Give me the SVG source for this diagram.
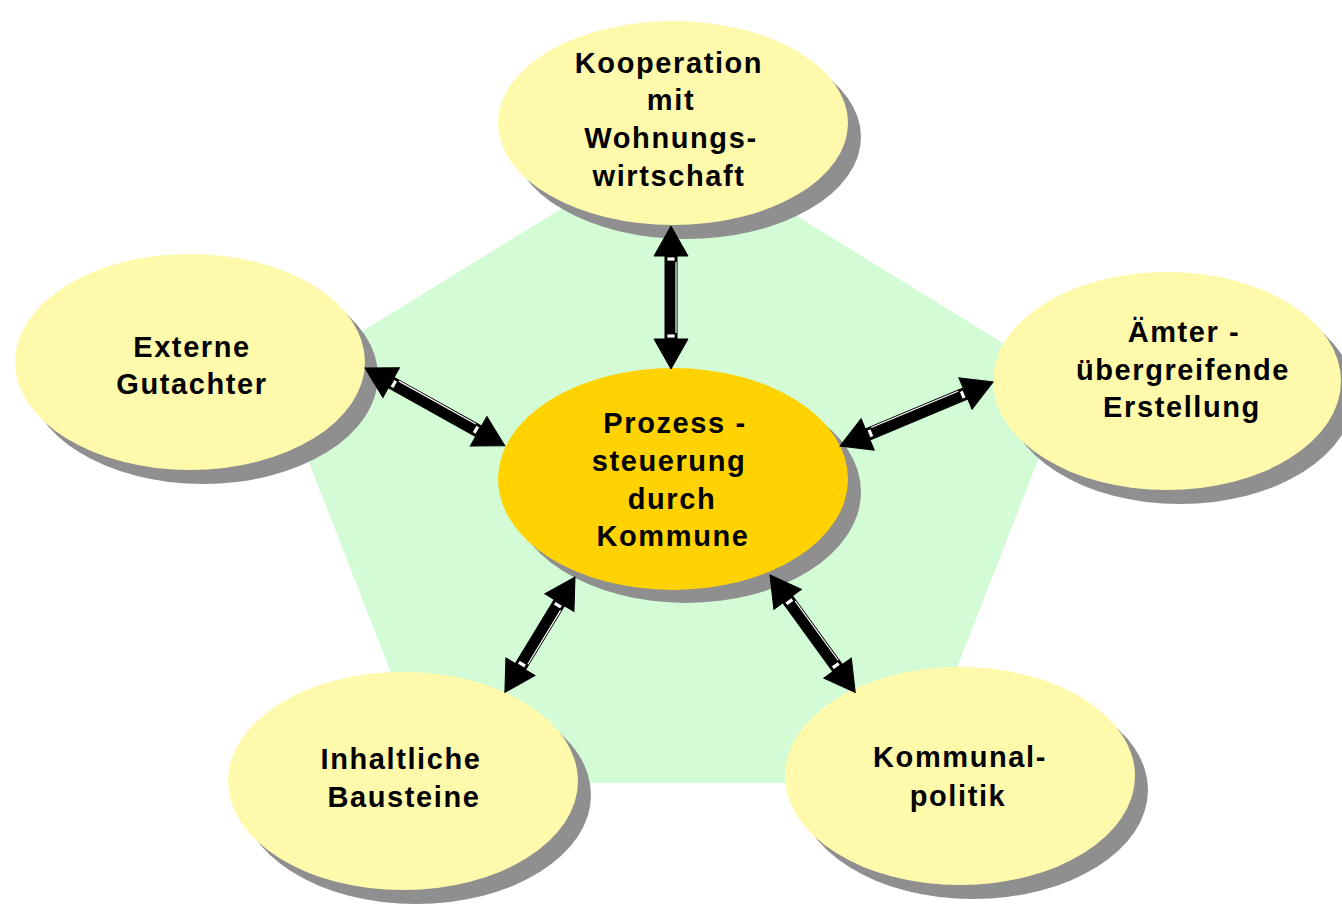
<svg xmlns="http://www.w3.org/2000/svg" width="1342" height="904" viewBox="0 0 1342 904">
<style>
.shadow{fill:#8f8f8f}
.node{fill:#FFFAAB}
.center{fill:#FFD200}
.lbl{font-family:"Liberation Sans",Arial,sans-serif;font-weight:bold;font-size:29px;letter-spacing:1.6px;fill:#000;text-anchor:middle}
.arr{fill:#000;stroke:#000;stroke-width:1}
.mark{fill:#fff;stroke:#000;stroke-width:0.8}
.hl{stroke:#fff;stroke-width:1.2}
</style>
<rect width="1342" height="904" fill="#fff"/>
<polygon points="673,140 1068,383 912,783 434,783 278,383" fill="#D3FBD5"/>

<g id="node-top">
<ellipse class="shadow" cx="686" cy="137" rx="175" ry="102"/>
<ellipse class="node" cx="673" cy="123" rx="175" ry="102"/>
<text class="lbl"><tspan x="669" y="73">Kooperation</tspan><tspan x="671" y="110">mit</tspan><tspan x="671" y="148">Wohnungs-</tspan><tspan x="669" y="186">wirtschaft</tspan></text>
</g>
<g id="node-left">
<ellipse class="shadow" cx="203" cy="376" rx="175" ry="108"/>
<ellipse class="node" cx="190" cy="362" rx="175" ry="108"/>
<text class="lbl"><tspan x="192" y="357">Externe</tspan><tspan x="192" y="394">Gutachter</tspan></text>
</g>
<g id="node-right">
<ellipse class="shadow" cx="1180" cy="395" rx="174" ry="109"/>
<ellipse class="node" cx="1167" cy="381" rx="174" ry="109"/>
<text class="lbl"><tspan x="1184" y="342">Ämter -</tspan><tspan x="1183" y="380">übergreifende</tspan><tspan x="1182" y="417">Erstellung</tspan></text>
</g>
<g id="node-bottom-left">
<ellipse class="shadow" cx="416" cy="795" rx="175" ry="109"/>
<ellipse class="node" cx="403" cy="781" rx="175" ry="109"/>
<text class="lbl"><tspan x="401" y="769">Inhaltliche</tspan><tspan x="404" y="807">Bausteine</tspan></text>
</g>
<g id="node-bottom-right">
<ellipse class="shadow" cx="973" cy="790" rx="175" ry="109"/>
<ellipse class="node" cx="960" cy="776" rx="175" ry="109"/>
<text class="lbl"><tspan x="960" y="767">Kommunal-</tspan><tspan x="958" y="806">politik</tspan></text>
</g>
<g id="node-center">
<ellipse class="shadow" cx="686" cy="492" rx="175" ry="111"/>
<ellipse class="center" cx="673" cy="479" rx="175" ry="111"/>
<text class="lbl"><tspan x="675" y="433">Prozess -</tspan><tspan x="669" y="471">steuerung</tspan><tspan x="672" y="509">durch</tspan><tspan x="673" y="546">Kommune</tspan></text>
</g>

<g id="connectors">
<g transform="translate(671,226) rotate(90)">
<polygon class="arr" points="0,0 30,-17 30,-6 113,-6 113,-17 143,0 113,17 113,6 30,6 30,17"/>
<line class="hl" x1="36" y1="-5" x2="107" y2="-5"/>
<rect class="mark" x="31" y="-4" width="4" height="8"/><rect class="mark" x="108" y="-4" width="4" height="8"/>
</g>
<g transform="translate(365,368) rotate(29.1)">
<polygon class="arr" points="0,0 30,-17 30,-6 130,-6 130,-17 160,0 130,17 130,6 30,6 30,17"/>
<line class="hl" x1="36" y1="-5" x2="124" y2="-5"/>
<rect class="mark" x="31" y="-4" width="4" height="8"/><rect class="mark" x="125" y="-4" width="4" height="8"/>
</g>
<g transform="translate(840,446) rotate(-22.7)">
<polygon class="arr" points="0,0 30,-17 30,-6 136,-6 136,-17 166,0 136,17 136,6 30,6 30,17"/>
<line class="hl" x1="36" y1="-5" x2="130" y2="-5"/>
<rect class="mark" x="31" y="-4" width="4" height="8"/><rect class="mark" x="131" y="-4" width="4" height="8"/>
</g>
<g transform="translate(575,577) rotate(121.3)">
<polygon class="arr" points="0,0 30,-17 30,-6 105,-6 105,-17 135,0 105,17 105,6 30,6 30,17"/>
<line class="hl" x1="36" y1="-5" x2="99" y2="-5"/>
<rect class="mark" x="31" y="-4" width="4" height="8"/><rect class="mark" x="100" y="-4" width="4" height="8"/>
</g>
<g transform="translate(770,575) rotate(54)">
<polygon class="arr" points="0,0 30,-17 30,-6 115,-6 115,-17 145,0 115,17 115,6 30,6 30,17"/>
<line class="hl" x1="36" y1="-5" x2="109" y2="-5"/>
<rect class="mark" x="31" y="-4" width="4" height="8"/><rect class="mark" x="110" y="-4" width="4" height="8"/>
</g>
</g>
</svg>
